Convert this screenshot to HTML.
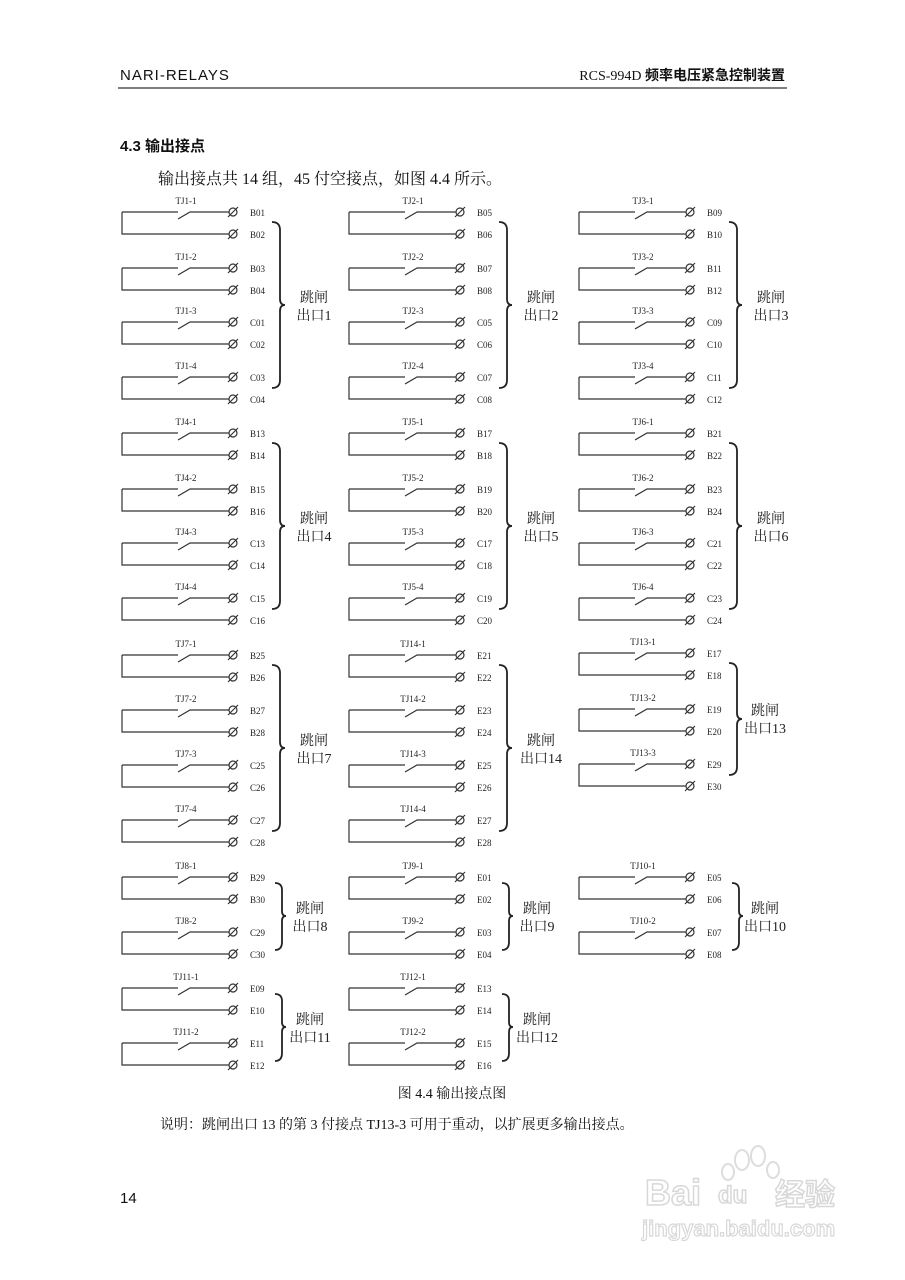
<!DOCTYPE html>
<html><head><meta charset="utf-8"><style>
body{margin:0;background:#fff}
svg{display:block}
.t{font-family:"Liberation Serif","Noto Serif CJK SC",serif;font-size:9px;fill:#222}
.b{font-family:"Liberation Serif","Noto Serif CJK SC",serif;font-size:14px;fill:#222}
</style></head><body>
<svg width="905" height="1280" viewBox="0 0 905 1280" xmlns="http://www.w3.org/2000/svg">
<defs>
<g id="p" fill="none" stroke="#333" stroke-width="1.2">
<path d="M0 0H56M56 7L68 0H107M0 0V22H107"/>
<circle cx="111" cy="0" r="4"/><circle cx="111" cy="22" r="4"/>
<path d="M106 5L116 -5M106 27L116 17"/>
</g>
</defs>
<text x="120" y="80" style="font-family:'Liberation Sans',sans-serif;font-size:15px;letter-spacing:1px" fill="#111">NARI-RELAYS</text>
<text x="785" y="80" text-anchor="end" style="font-family:'Liberation Serif','Noto Sans CJK SC',serif;font-size:14px" fill="#111">RCS-994D <tspan font-weight="bold">频率电压紧急控制装置</tspan></text>
<line x1="118" y1="88" x2="787" y2="88" stroke="#555" stroke-width="1.5"/>
<text x="120" y="151" style="font-family:'Liberation Sans','Noto Sans CJK SC',sans-serif;font-size:15px;font-weight:bold" fill="#111">4.3  输出接点</text>
<text x="158" y="184" style="font-family:'Liberation Serif','Noto Serif CJK SC',serif;font-size:16px" fill="#111">输出接点共 14 组，45 付空接点，如图 4.4 所示。</text>

<!-- Row 1 -->
<g transform="translate(122,212)">
<use href="#p"/><use href="#p" y="56"/><use href="#p" y="110"/><use href="#p" y="165"/>
<text class="t" x="64" y="-8" text-anchor="middle">TJ1-1</text><text class="t" x="64" y="48" text-anchor="middle">TJ1-2</text><text class="t" x="64" y="102" text-anchor="middle">TJ1-3</text><text class="t" x="64" y="157" text-anchor="middle">TJ1-4</text>
<text class="t" x="128" y="4">B01</text><text class="t" x="128" y="26">B02</text><text class="t" x="128" y="60">B03</text><text class="t" x="128" y="82">B04</text><text class="t" x="128" y="114">C01</text><text class="t" x="128" y="136">C02</text><text class="t" x="128" y="169">C03</text><text class="t" x="128" y="191">C04</text>
<path d="M150 10Q158 10 158 18V87Q158 93 163 93Q158 93 158 99V168Q158 176 150 176" fill="none" stroke="#222" stroke-width="1.8"/>
<text class="b" x="192" y="90" text-anchor="middle">跳闸</text><text class="b" x="192" y="108" text-anchor="middle">出口1</text>
</g>
<g transform="translate(349,212)">
<use href="#p"/><use href="#p" y="56"/><use href="#p" y="110"/><use href="#p" y="165"/>
<text class="t" x="64" y="-8" text-anchor="middle">TJ2-1</text><text class="t" x="64" y="48" text-anchor="middle">TJ2-2</text><text class="t" x="64" y="102" text-anchor="middle">TJ2-3</text><text class="t" x="64" y="157" text-anchor="middle">TJ2-4</text>
<text class="t" x="128" y="4">B05</text><text class="t" x="128" y="26">B06</text><text class="t" x="128" y="60">B07</text><text class="t" x="128" y="82">B08</text><text class="t" x="128" y="114">C05</text><text class="t" x="128" y="136">C06</text><text class="t" x="128" y="169">C07</text><text class="t" x="128" y="191">C08</text>
<path d="M150 10Q158 10 158 18V87Q158 93 163 93Q158 93 158 99V168Q158 176 150 176" fill="none" stroke="#222" stroke-width="1.8"/>
<text class="b" x="192" y="90" text-anchor="middle">跳闸</text><text class="b" x="192" y="108" text-anchor="middle">出口2</text>
</g>
<g transform="translate(579,212)">
<use href="#p"/><use href="#p" y="56"/><use href="#p" y="110"/><use href="#p" y="165"/>
<text class="t" x="64" y="-8" text-anchor="middle">TJ3-1</text><text class="t" x="64" y="48" text-anchor="middle">TJ3-2</text><text class="t" x="64" y="102" text-anchor="middle">TJ3-3</text><text class="t" x="64" y="157" text-anchor="middle">TJ3-4</text>
<text class="t" x="128" y="4">B09</text><text class="t" x="128" y="26">B10</text><text class="t" x="128" y="60">B11</text><text class="t" x="128" y="82">B12</text><text class="t" x="128" y="114">C09</text><text class="t" x="128" y="136">C10</text><text class="t" x="128" y="169">C11</text><text class="t" x="128" y="191">C12</text>
<path d="M150 10Q158 10 158 18V87Q158 93 163 93Q158 93 158 99V168Q158 176 150 176" fill="none" stroke="#222" stroke-width="1.8"/>
<text class="b" x="192" y="90" text-anchor="middle">跳闸</text><text class="b" x="192" y="108" text-anchor="middle">出口3</text>
</g>

<!-- Row 2 -->
<g transform="translate(122,433)">
<use href="#p"/><use href="#p" y="56"/><use href="#p" y="110"/><use href="#p" y="165"/>
<text class="t" x="64" y="-8" text-anchor="middle">TJ4-1</text><text class="t" x="64" y="48" text-anchor="middle">TJ4-2</text><text class="t" x="64" y="102" text-anchor="middle">TJ4-3</text><text class="t" x="64" y="157" text-anchor="middle">TJ4-4</text>
<text class="t" x="128" y="4">B13</text><text class="t" x="128" y="26">B14</text><text class="t" x="128" y="60">B15</text><text class="t" x="128" y="82">B16</text><text class="t" x="128" y="114">C13</text><text class="t" x="128" y="136">C14</text><text class="t" x="128" y="169">C15</text><text class="t" x="128" y="191">C16</text>
<path d="M150 10Q158 10 158 18V87Q158 93 163 93Q158 93 158 99V168Q158 176 150 176" fill="none" stroke="#222" stroke-width="1.8"/>
<text class="b" x="192" y="90" text-anchor="middle">跳闸</text><text class="b" x="192" y="108" text-anchor="middle">出口4</text>
</g>
<g transform="translate(349,433)">
<use href="#p"/><use href="#p" y="56"/><use href="#p" y="110"/><use href="#p" y="165"/>
<text class="t" x="64" y="-8" text-anchor="middle">TJ5-1</text><text class="t" x="64" y="48" text-anchor="middle">TJ5-2</text><text class="t" x="64" y="102" text-anchor="middle">TJ5-3</text><text class="t" x="64" y="157" text-anchor="middle">TJ5-4</text>
<text class="t" x="128" y="4">B17</text><text class="t" x="128" y="26">B18</text><text class="t" x="128" y="60">B19</text><text class="t" x="128" y="82">B20</text><text class="t" x="128" y="114">C17</text><text class="t" x="128" y="136">C18</text><text class="t" x="128" y="169">C19</text><text class="t" x="128" y="191">C20</text>
<path d="M150 10Q158 10 158 18V87Q158 93 163 93Q158 93 158 99V168Q158 176 150 176" fill="none" stroke="#222" stroke-width="1.8"/>
<text class="b" x="192" y="90" text-anchor="middle">跳闸</text><text class="b" x="192" y="108" text-anchor="middle">出口5</text>
</g>
<g transform="translate(579,433)">
<use href="#p"/><use href="#p" y="56"/><use href="#p" y="110"/><use href="#p" y="165"/>
<text class="t" x="64" y="-8" text-anchor="middle">TJ6-1</text><text class="t" x="64" y="48" text-anchor="middle">TJ6-2</text><text class="t" x="64" y="102" text-anchor="middle">TJ6-3</text><text class="t" x="64" y="157" text-anchor="middle">TJ6-4</text>
<text class="t" x="128" y="4">B21</text><text class="t" x="128" y="26">B22</text><text class="t" x="128" y="60">B23</text><text class="t" x="128" y="82">B24</text><text class="t" x="128" y="114">C21</text><text class="t" x="128" y="136">C22</text><text class="t" x="128" y="169">C23</text><text class="t" x="128" y="191">C24</text>
<path d="M150 10Q158 10 158 18V87Q158 93 163 93Q158 93 158 99V168Q158 176 150 176" fill="none" stroke="#222" stroke-width="1.8"/>
<text class="b" x="192" y="90" text-anchor="middle">跳闸</text><text class="b" x="192" y="108" text-anchor="middle">出口6</text>
</g>

<!-- Row 3 -->
<g transform="translate(122,655)">
<use href="#p"/><use href="#p" y="55"/><use href="#p" y="110"/><use href="#p" y="165"/>
<text class="t" x="64" y="-8" text-anchor="middle">TJ7-1</text><text class="t" x="64" y="47" text-anchor="middle">TJ7-2</text><text class="t" x="64" y="102" text-anchor="middle">TJ7-3</text><text class="t" x="64" y="157" text-anchor="middle">TJ7-4</text>
<text class="t" x="128" y="4">B25</text><text class="t" x="128" y="26">B26</text><text class="t" x="128" y="59">B27</text><text class="t" x="128" y="81">B28</text><text class="t" x="128" y="114">C25</text><text class="t" x="128" y="136">C26</text><text class="t" x="128" y="169">C27</text><text class="t" x="128" y="191">C28</text>
<path d="M150 10Q158 10 158 18V87Q158 93 163 93Q158 93 158 99V168Q158 176 150 176" fill="none" stroke="#222" stroke-width="1.8"/>
<text class="b" x="192" y="90" text-anchor="middle">跳闸</text><text class="b" x="192" y="108" text-anchor="middle">出口7</text>
</g>
<g transform="translate(349,655)">
<use href="#p"/><use href="#p" y="55"/><use href="#p" y="110"/><use href="#p" y="165"/>
<text class="t" x="64" y="-8" text-anchor="middle">TJ14-1</text><text class="t" x="64" y="47" text-anchor="middle">TJ14-2</text><text class="t" x="64" y="102" text-anchor="middle">TJ14-3</text><text class="t" x="64" y="157" text-anchor="middle">TJ14-4</text>
<text class="t" x="128" y="4">E21</text><text class="t" x="128" y="26">E22</text><text class="t" x="128" y="59">E23</text><text class="t" x="128" y="81">E24</text><text class="t" x="128" y="114">E25</text><text class="t" x="128" y="136">E26</text><text class="t" x="128" y="169">E27</text><text class="t" x="128" y="191">E28</text>
<path d="M150 10Q158 10 158 18V87Q158 93 163 93Q158 93 158 99V168Q158 176 150 176" fill="none" stroke="#222" stroke-width="1.8"/>
<text class="b" x="192" y="90" text-anchor="middle">跳闸</text><text class="b" x="192" y="108" text-anchor="middle">出口14</text>
</g>
<g transform="translate(579,653)">
<use href="#p"/><use href="#p" y="56"/><use href="#p" y="111"/>
<text class="t" x="64" y="-8" text-anchor="middle">TJ13-1</text><text class="t" x="64" y="48" text-anchor="middle">TJ13-2</text><text class="t" x="64" y="103" text-anchor="middle">TJ13-3</text>
<text class="t" x="128" y="4">E17</text><text class="t" x="128" y="26">E18</text><text class="t" x="128" y="60">E19</text><text class="t" x="128" y="82">E20</text><text class="t" x="128" y="115">E29</text><text class="t" x="128" y="137">E30</text>
<path d="M150 10Q158 10 158 18V60Q158 66 163 66Q158 66 158 72V114Q158 122 150 122" fill="none" stroke="#222" stroke-width="1.8"/>
<text class="b" x="186" y="62" text-anchor="middle">跳闸</text><text class="b" x="186" y="80" text-anchor="middle">出口13</text>
</g>

<!-- Row 4 -->
<g transform="translate(122,877)">
<use href="#p"/><use href="#p" y="55"/>
<text class="t" x="64" y="-8" text-anchor="middle">TJ8-1</text><text class="t" x="64" y="47" text-anchor="middle">TJ8-2</text>
<text class="t" x="128" y="4">B29</text><text class="t" x="128" y="26">B30</text><text class="t" x="128" y="59">C29</text><text class="t" x="128" y="81">C30</text>
<path d="M153 6Q160 6 160 13V34Q160 39 164 39Q160 39 160 44V65Q160 73 153 73" fill="none" stroke="#222" stroke-width="1.8"/>
<text class="b" x="188" y="36" text-anchor="middle">跳闸</text><text class="b" x="188" y="54" text-anchor="middle">出口8</text>
</g>
<g transform="translate(349,877)">
<use href="#p"/><use href="#p" y="55"/>
<text class="t" x="64" y="-8" text-anchor="middle">TJ9-1</text><text class="t" x="64" y="47" text-anchor="middle">TJ9-2</text>
<text class="t" x="128" y="4">E01</text><text class="t" x="128" y="26">E02</text><text class="t" x="128" y="59">E03</text><text class="t" x="128" y="81">E04</text>
<path d="M153 6Q160 6 160 13V34Q160 39 164 39Q160 39 160 44V65Q160 73 153 73" fill="none" stroke="#222" stroke-width="1.8"/>
<text class="b" x="188" y="36" text-anchor="middle">跳闸</text><text class="b" x="188" y="54" text-anchor="middle">出口9</text>
</g>
<g transform="translate(579,877)">
<use href="#p"/><use href="#p" y="55"/>
<text class="t" x="64" y="-8" text-anchor="middle">TJ10-1</text><text class="t" x="64" y="47" text-anchor="middle">TJ10-2</text>
<text class="t" x="128" y="4">E05</text><text class="t" x="128" y="26">E06</text><text class="t" x="128" y="59">E07</text><text class="t" x="128" y="81">E08</text>
<path d="M153 6Q160 6 160 13V34Q160 39 164 39Q160 39 160 44V65Q160 73 153 73" fill="none" stroke="#222" stroke-width="1.8"/>
<text class="b" x="186" y="36" text-anchor="middle">跳闸</text><text class="b" x="186" y="54" text-anchor="middle">出口10</text>
</g>

<!-- Row 5 -->
<g transform="translate(122,988)">
<use href="#p"/><use href="#p" y="55"/>
<text class="t" x="64" y="-8" text-anchor="middle">TJ11-1</text><text class="t" x="64" y="47" text-anchor="middle">TJ11-2</text>
<text class="t" x="128" y="4">E09</text><text class="t" x="128" y="26">E10</text><text class="t" x="128" y="59">E11</text><text class="t" x="128" y="81">E12</text>
<path d="M153 6Q160 6 160 13V34Q160 39 164 39Q160 39 160 44V65Q160 73 153 73" fill="none" stroke="#222" stroke-width="1.8"/>
<text class="b" x="188" y="36" text-anchor="middle">跳闸</text><text class="b" x="188" y="54" text-anchor="middle">出口11</text>
</g>
<g transform="translate(349,988)">
<use href="#p"/><use href="#p" y="55"/>
<text class="t" x="64" y="-8" text-anchor="middle">TJ12-1</text><text class="t" x="64" y="47" text-anchor="middle">TJ12-2</text>
<text class="t" x="128" y="4">E13</text><text class="t" x="128" y="26">E14</text><text class="t" x="128" y="59">E15</text><text class="t" x="128" y="81">E16</text>
<path d="M153 6Q160 6 160 13V34Q160 39 164 39Q160 39 160 44V65Q160 73 153 73" fill="none" stroke="#222" stroke-width="1.8"/>
<text class="b" x="188" y="36" text-anchor="middle">跳闸</text><text class="b" x="188" y="54" text-anchor="middle">出口12</text>
</g>

<text x="452" y="1098" text-anchor="middle" style="font-family:'Liberation Serif','Noto Serif CJK SC',serif;font-size:14px" fill="#111">图 4.4 输出接点图</text>
<text x="160" y="1129" style="font-family:'Liberation Serif','Noto Serif CJK SC',serif;font-size:14px" fill="#111">说明：跳闸出口 13 的第 3 付接点 TJ13-3 可用于重动，以扩展更多输出接点。</text>
<text x="120" y="1203" style="font-family:'Liberation Sans',sans-serif;font-size:15px" fill="#111">14</text>

<g fill="none" stroke="#ddd" stroke-width="2">
<ellipse cx="742" cy="1160" rx="7" ry="10"/><ellipse cx="758" cy="1156" rx="7" ry="10"/><ellipse cx="773" cy="1170" rx="6" ry="8"/><ellipse cx="728" cy="1172" rx="6" ry="8"/>
</g>
<text x="645" y="1205" style="font-family:'Liberation Sans','Noto Sans CJK SC',sans-serif;font-size:36px;font-weight:bold" fill="#fff" stroke="#d8d8d8" stroke-width="1.5">Bai</text>
<text x="718" y="1203" style="font-family:'Liberation Sans',sans-serif;font-size:24px;font-weight:bold" fill="#fff" stroke="#d8d8d8" stroke-width="1.5">du</text>
<text x="775" y="1205" style="font-family:'Noto Sans CJK SC',sans-serif;font-size:30px;font-weight:bold" fill="#fff" stroke="#d8d8d8" stroke-width="1.5">经验</text>
<text x="642" y="1236" style="font-family:'Liberation Sans',sans-serif;font-size:22px;font-weight:bold" fill="#fff" stroke="#d8d8d8" stroke-width="1.2">jingyan.baidu.com</text>
</svg>
</body></html>
